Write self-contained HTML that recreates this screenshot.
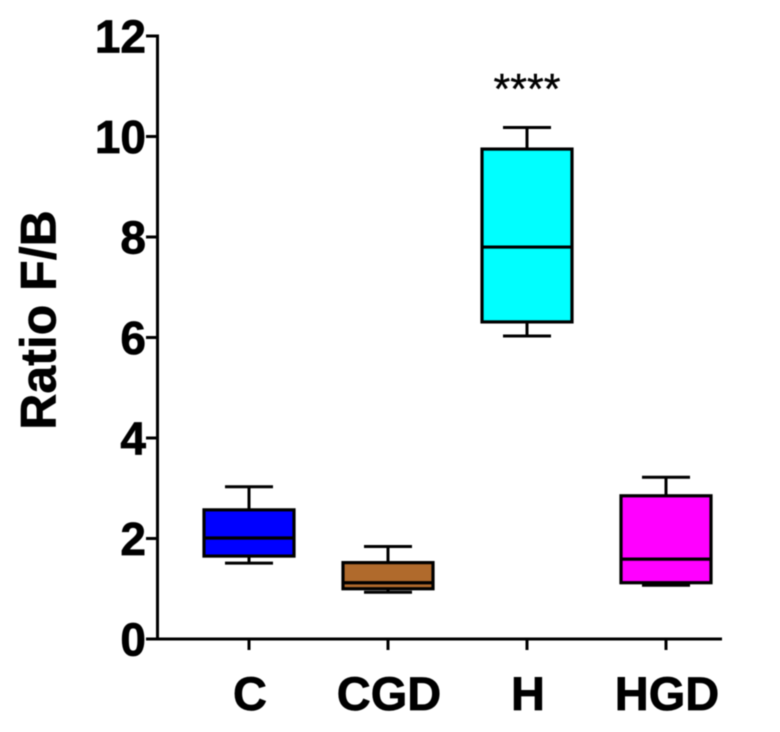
<!DOCTYPE html>
<html>
<head>
<meta charset="utf-8">
<style>
html,body{margin:0;padding:0;background:#fff;width:780px;height:732px;overflow:hidden}
svg{display:block;filter:blur(.5px)}
text{font-family:"Liberation Sans",sans-serif;fill:#000}
</style>
</head>
<body>
<svg id="chart" width="780" height="732" viewBox="0 0 780 732" xmlns="http://www.w3.org/2000/svg"></svg>
<script>
const categories = ['C', 'CGD', 'H', 'HGD'];
const whiskerLow = [1.51, 0.93, 6.03, 1.07];
const boxLow = [1.65, 1.0, 6.31, 1.12];
const medians = [2.01, 1.12, 7.8, 1.59];
const boxHigh = [2.57, 1.52, 9.75, 2.85];
const whiskerHigh = [3.03, 1.84, 10.18, 3.22];
const fills = ['#0000ff', '#b06a2c', '#00ffff', '#ff00ff'];
const yTicks = [0, 2, 4, 6, 8, 10, 12];
const significance = ['', '', '****', ''];
const yTitle = 'Ratio F/B';

const NS = 'http://www.w3.org/2000/svg';
const svg = document.getElementById('chart');
const y = v => 639 - v * (603 / 12);
const x = i => 249 + i * 139;

function make(tag, attrs, parent) {
  const el = document.createElementNS(NS, tag);
  for (const k in attrs) el.setAttribute(k, attrs[k]);
  (parent || svg).appendChild(el);
  return el;
}
function seg(x1, y1, x2, y2, w, parent) {
  return make('line', {x1, y1, x2, y2, stroke: '#000', 'stroke-width': w}, parent);
}

const yAxis = make('g', {});


seg(157.5, y(12) - 1.5, 157.5, y(0) + 1.5, 3, yAxis);
yTicks.forEach(t => {
  const tick = seg(146, y(t), 157, y(t), 3, yAxis);
  
  
  const label = make('text', {x: 146, y: y(t) + 16.5, 'text-anchor': 'end', 'font-size': 46, 'font-weight': 'bold', stroke: '#000', 'stroke-width': 0.7}, yAxis);
  
  
  label.textContent = t;
});

const xAxis = make('g', {});


seg(146, y(0), 722, y(0), 3, xAxis);

const title = make('text', {transform: 'translate(55.5,320) rotate(-90)', 'text-anchor': 'middle', 'font-size': 50, 'font-weight': 'bold', stroke: '#000', 'stroke-width': 0.6});


title.textContent = yTitle;

categories.forEach((c, i) => {
  const cx = x(i);
  const tick = seg(cx, y(0), cx, 650, 3, xAxis);
  
  
  const label = make('text', {x: cx + 1, y: 710, 'text-anchor': 'middle', 'font-size': 47, 'font-weight': 'bold', stroke: '#000', 'stroke-width': 0.7}, xAxis);
  
  
  label.textContent = c;

  const g = make('g', {});
  
  
  const whiskerStem = seg(cx, y(whiskerLow[i]), cx, y(whiskerHigh[i]), 3, g);
  
  
  const capHigh = seg(cx - 24, y(whiskerHigh[i]), cx + 24, y(whiskerHigh[i]), 3, g);
  
  
  const capLow = seg(cx - 24, y(whiskerLow[i]), cx + 24, y(whiskerLow[i]), 3, g);
  
  
  const box = make('rect', {x: cx - 45, y: y(boxHigh[i]), width: 90, height: y(boxLow[i]) - y(boxHigh[i]), fill: fills[i], stroke: '#000', 'stroke-width': 3.2}, g);
  
  
  const median = seg(cx - 45, y(medians[i]), cx + 45, y(medians[i]), 3.2, g);
  
  

  if (significance[i]) {
    const s = make('text', {x: cx, y: y(whiskerHigh[i]) - 24, 'text-anchor': 'middle', 'font-size': 43, stroke: '#000', 'stroke-width': 0.4}, g);
    
    
    s.textContent = significance[i];
  }
});
</script>
</body>
</html>
